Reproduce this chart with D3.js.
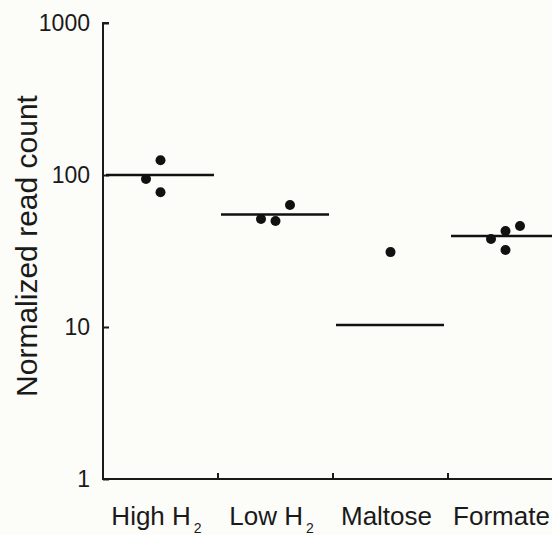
<!DOCTYPE html>
<html>
<head>
<meta charset="utf-8">
<script src="https://cdn.jsdelivr.net/npm/d3@7"></script>
<style>
  body { margin: 0; background: #fcfcf9; }
  svg { display: block; }
  text { font-family: "Liberation Sans", Arial, sans-serif; fill: #1a1a1a; }
</style>
</head>
<body>
<svg id="chart"></svg>
<script>
'use strict';

// categories (subscript part kept apart)
var categories = ['High H2', 'Low H2', 'Maltose', 'Formate'];
var labelMain = ['High H', 'Low H', 'Maltose', 'Formate'];
var labelSub = ['2', '2', '', ''];

// median line per category
var medians = [100, 55, 10.3, 39.7];

// individual points: category, value, jitter slot
var pointCat = ['High H2', 'High H2', 'High H2',
  'Low H2', 'Low H2', 'Low H2',
  'Maltose',
  'Formate', 'Formate', 'Formate', 'Formate'];
var pointVal = [125, 94, 77,
  51.4, 49.8, 63.5,
  31.1,
  37.9, 42.8, 46.2, 32.1];
var pointSlot = [0, -1, 0,
  -1, 0, 1,
  0,
  -1, 0, 1, 0];

var yTicks = [1, 10, 100, 1000];

var width = 552;
var height = 535;

var svg = d3.select('#chart')
  .attr('width', width)
  .attr('height', height);

//Scales
var x = d3.scaleBand().domain(categories).range([103, 563]);
var y = d3.scaleLog().domain([1, 1000]).range([479, 23]);
var jitter = d3.scaleLinear().domain([-1, 1]).range([-14.5, 14.5]);

//Y axis
var yAxis = d3.axisRight(y).tickValues(yTicks).tickSize(6).tickFormat('');
svg.append('g')
  .attr('transform', 'translate(103,0)')
  .call(yAxis)
  .call(function (g) {
    g.select('.domain').attr('stroke', '#1a1a1a').attr('stroke-width', 2).attr('d', 'M6,23H0V479');
    g.selectAll('.tick line').attr('stroke', '#1a1a1a').attr('stroke-width', 2);
  });

svg.selectAll('.ylab').data(yTicks).enter().append('text')
  .attr('class', 'ylab')
  .attr('x', 90)
  .attr('y', function (d) { return y(d); })
  .attr('dy', '0.36em')
  .attr('text-anchor', 'end')
  .style('font-size', '23px')
  .text(function (d) { return d; });

//X axis
var xTickPos = categories.slice(1).map(function (c) { return x(c); });
svg.append('line')
  .attr('x1', 102).attr('x2', width)
  .attr('y1', y(1)).attr('y2', y(1))
  .attr('stroke', '#1a1a1a').attr('stroke-width', 2);
svg.selectAll('.xtick').data(xTickPos).enter().append('line')
  .attr('class', 'xtick')
  .attr('x1', function (d) { return d; }).attr('x2', function (d) { return d; })
  .attr('y1', y(1)).attr('y2', y(1) - 6)
  .attr('stroke', '#1a1a1a').attr('stroke-width', 2);

var xl = svg.selectAll('.xlab').data(categories).enter().append('text')
  .attr('class', 'xlab')
  .attr('x', function (d) { return x(d) + x.bandwidth() / 2 - 4; })
  .attr('y', 525)
  .attr('text-anchor', 'middle')
  .style('font-size', '26px');
xl.append('tspan').text(function (d, i) { return labelMain[i]; });
xl.append('tspan')
  .attr('dx', function (d, i) { return labelSub[i] ? 3 : 0; })
  .attr('dy', 8)
  .style('font-size', '14px')
  .text(function (d, i) { return labelSub[i]; });

//Y title
svg.append('text')
  .attr('transform', 'translate(37,246) rotate(-90)')
  .attr('text-anchor', 'middle')
  .style('font-size', '30px')
  .text('Normalized read count');

//Median lines
svg.selectAll('.median').data(medians).enter().append('line')
  .attr('class', 'median')
  .attr('x1', function (d, i) { return x(categories[i]) + 3; })
  .attr('x2', function (d, i) { return x(categories[i]) + x.bandwidth() - 4; })
  .attr('y1', function (d) { return y(d); })
  .attr('y2', function (d) { return y(d); })
  .attr('stroke', '#111').attr('stroke-width', 2.6);

//Points
svg.selectAll('.dot').data(pointVal).enter().append('circle')
  .attr('class', 'dot')
  .attr('cx', function (d, i) { return x(pointCat[i]) + x.bandwidth() / 2 + jitter(pointSlot[i]); })
  .attr('cy', function (d) { return y(d); })
  .attr('r', 5)
  .attr('fill', '#111');
</script>
</body>
</html>
